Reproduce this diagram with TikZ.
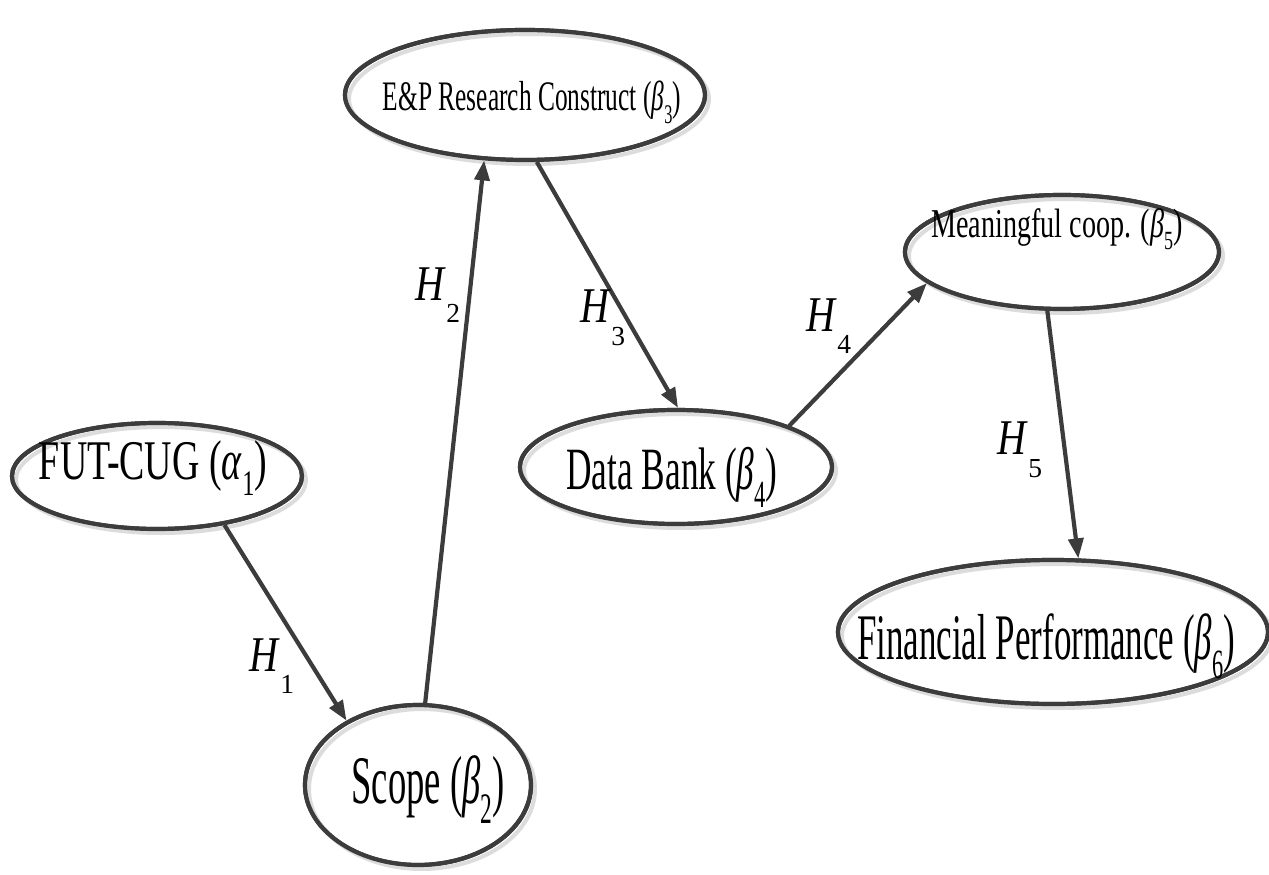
\documentclass[tikz,border=0pt]{standalone}
\usepackage{fontspec}
\setmainfont{Liberation Serif}
\usetikzlibrary{shapes.geometric,arrows.meta}
\definecolor{ink}{HTML}{3C3C3C}
\definecolor{shadegray}{HTML}{DCDCDC}
% subscript digit
\newcommand{\sbd}[1]{\raisebox{-0.3em}{\scalebox{0.64}{#1}}}
% ellipse text: size, width, raise, xshift, text
\newcommand{\etext}[5]{{\fontsize{#1}{#1}\selectfont\raisebox{#3}[0pt][0pt]{\makebox[0pt]{\hspace*{#4}\resizebox{#2}{\height}{#5}}}}}
\newcommand{\hlab}[1]{{\fontsize{50pt}{50pt}\selectfont\scalebox{0.8}[1]{\textit{H}}\raisebox{-0.45em}{\scalebox{0.55}{#1}}}}
\tikzset{
  blob/.style 2 args={ellipse, minimum width=#1, minimum height=#2, inner sep=0pt,
    fill=white, draw=ink, line width=4.2pt,
    postaction={draw=shadegray, line width=4pt, transform canvas={shift={(4pt,-4pt)}}},
    postaction={draw=ink, line width=4.2pt}},
  link/.style={draw=ink, line width=4.2pt, -{Triangle[length=20pt,width=15pt]}},
  hyp/.style={inner sep=0pt, anchor=center}
}
\begin{document}
\begin{tikzpicture}[x=1pt,y=-1pt]
\useasboundingbox (0,0) rectangle (1269,875);
\node[blob={290pt}{106pt}] (fut) at (157,476)
  {\etext{56pt}{228pt}{-3pt}{-8pt}{FUT-CUG (\textit{α}\sbd{1})}};
\node[blob={226pt}{160pt}] (scope) at (418,785)
  {\etext{68pt}{153pt}{-18pt}{20pt}{Scope (\textit{β}\sbd{2})}};
\node[blob={360pt}{130pt}] (ep) at (525,95)
  {\etext{42pt}{298pt}{-16pt}{14pt}{E\&P Research Construct (\textit{β}\sbd{3})}};
\node[blob={312pt}{114pt}] (db) at (676,467)
  {\etext{60pt}{211pt}{-22pt}{-8pt}{Data Bank (\textit{β}\sbd{4})}};
\node[blob={314pt}{114pt}] (mc) at (1062,252)
  {\etext{41pt}{251pt}{15pt}{-10pt}{Meaningful coop. (\textit{β}\sbd{5})}};
\node[blob={430pt}{144pt}] (fp) at (1053,632)
  {\etext{65pt}{378pt}{-27pt}{-14pt}{Financial Performance (\textit{β}\sbd{6})}};

\draw[link] (fut.-36) -- (scope.138);
\draw[link] (scope.85) -- (ep.-122);
\draw[link] (ep.-80) -- (db.88);
\draw[link] (db.20) -- (mc.193);
\draw[link] (mc.-104) -- (fp.71);

\node[hyp] (h1) at (272,666) {\hlab{1}};
\node[hyp] (h2) at (438,295) {\hlab{2}};
\node[hyp] (h3) at (603,318) {\hlab{3}};
\node[hyp] (h4) at (829,326) {\hlab{4}};
\node[hyp] (h5) at (1020,450) {\hlab{5}};
\end{tikzpicture}
\end{document}
